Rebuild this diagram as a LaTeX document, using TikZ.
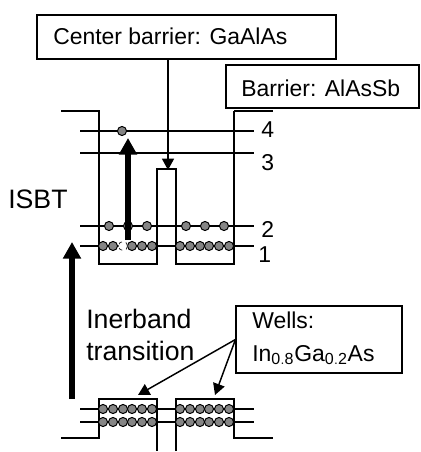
\documentclass[tikz,border=0pt]{standalone}
\usepackage{fontspec}
\setmainfont{Liberation Sans}
\usetikzlibrary{arrows.meta}
\tikzset{
  wire/.style={line width=1.1pt,black},
  thickstub/.style={line width=1.7pt,black},
  dot/.style={circle,draw=black,line width=0.75pt,fill=black!48,minimum size=6.8pt,inner sep=0pt},
  lbl/.style={inner sep=0pt,font=\fontsize{17.2}{20}\selectfont,anchor=base west,text=black},
  biglbl/.style={lbl,font=\fontsize{20}{24}\selectfont},
  boxed/.style={draw=black,line width=0.8pt,fill=white,inner sep=0pt},
  bigarrow/.style={line width=4.8pt,-{Triangle[length=12.5pt,width=13pt]}},
  thinarrow/.style={line width=1.1pt,-{Triangle[length=8.5pt,width=9pt]}},
}
\begin{document}
\begin{tikzpicture}[x=0.75pt,y=-0.75pt]
\useasboundingbox (0,0) rectangle (420,452);
% level lines
\foreach \n/\yy in {l4/131,l3/153,l2/226,l1/246,m2/409,m1/422}{
  \coordinate (\n a) at (80,\yy);
  \coordinate (\n b) at (254,\yy);
  \draw[wire] (\n a) -- (\n b);
}
% upper well profile
\draw[wire] (61,111) -- (99,111) -- (99,264) -- (157,264) -- (157,169) -- (176,169) -- (176,264) -- (234,264) -- (234,111);
\draw[thickstub] (61,111) -- (99,111);
% lower profile
\draw[wire] (61,438) -- (99,438) -- (99,399) -- (157,399) -- (157,451);
\draw[wire] (176,451) -- (176,399) -- (234,399) -- (234,438) -- (273,438);
% dots
\node[dot] (d4) at (122,131) {};
\foreach \x in {109,128,147,186,205,224}{\node[dot] at (\x,226) {};}
\foreach \x in {103,113,132,142,152,180,190,200,209,219,229}{
  \node[dot] at (\x,246) {};
  \node[dot] at (\x,409) {};
  \node[dot] at (\x,422) {};
}
\node[dot] at (123,409) {};
\node[dot] at (123,422) {};
\node[dot,draw=black!80,fill=white,dashed,line width=0.6pt] at (123,246) {};
% arrows
\coordinate (isbtS) at (128,240);
\coordinate (isbtE) at (128,138);
\draw[bigarrow] (isbtS) -- (isbtE);
\coordinate (ibS) at (72,399);
\coordinate (ibE) at (72,242);
\draw[bigarrow] (ibS) -- (ibE);
% boxes
\node[boxed,minimum width=299*0.75pt,minimum height=44*0.75pt] (cb) at (186.5,37) {};
\node[lbl] at (53,45) {Center barrier: GaAlAs};
\node[boxed,minimum width=193*0.75pt,minimum height=43*0.75pt] (bb) at (322.5,86.5) {};
\node[lbl] at (241,97) {Barrier: AlAsSb};
\draw[thickstub] (234,111) -- (273,111);
\node[boxed,minimum width=166*0.75pt,minimum height=67*0.75pt] (wb) at (319,339.5) {};
\node[lbl] at (252,328) {Wells:};
\node[lbl] at (252,361) {In$_{\mathrm{0.8}}$Ga$_{\mathrm{0.2}}$As};
% thin arrows
\coordinate (cbE) at (168,170);
\draw[thinarrow] (cb.south -| cbE) -- (cbE);
\coordinate (w1) at (138,395);
\coordinate (w2) at (215,395);
\draw[thinarrow] (wb.west) -- (w1);
\draw[thinarrow] (wb.west) -- (w2);
% labels
\node[lbl] at (261,138) {4};
\node[lbl] at (261,171) {3};
\node[lbl] at (261,237) {2};
\node[lbl] at (258,262) {1};
\node[biglbl] at (8,208) {ISBT};
\node[biglbl] at (86,328) {Inerband};
\node[biglbl] at (86,360) {transition};
\end{tikzpicture}
\end{document}
